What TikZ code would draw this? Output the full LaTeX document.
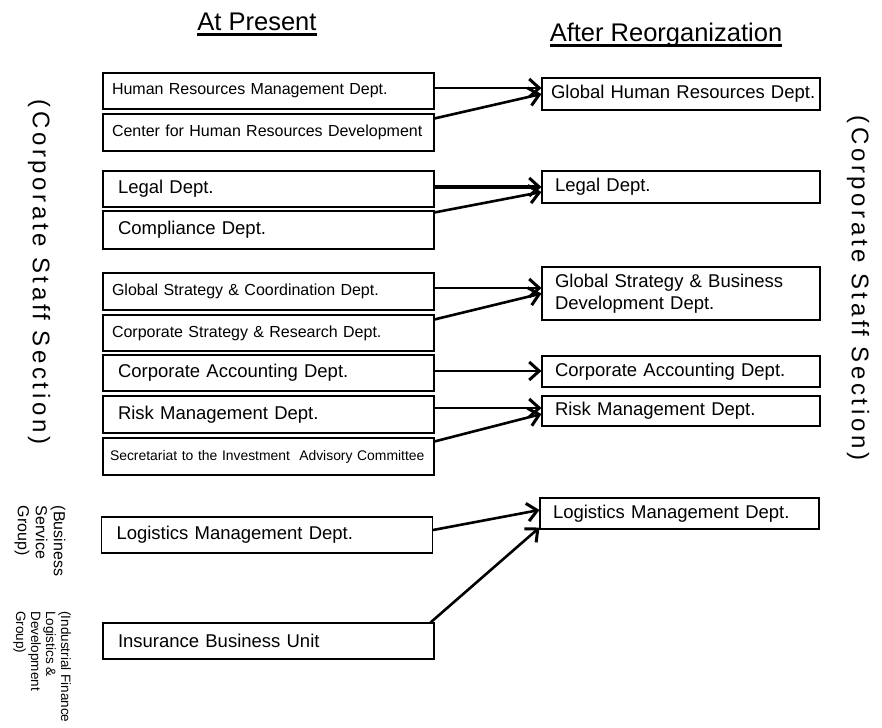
\documentclass[tikz,border=0pt]{standalone}
\usepackage{fontspec}
\setmainfont{Liberation Sans}
\newfontfamily\spacedfont[LetterSpace=15]{Liberation Sans}
\usetikzlibrary{arrows.meta}

\begin{document}
\begin{tikzpicture}[x=1pt, y=-1pt,
    oldbox/.style ={draw, line width=1.1pt, minimum height=37pt, inner ysep=2pt, inner xsep=15pt, text width=301pt, align=left, font=\fontsize{18.5}{22}\selectfont},
    oldsmall/.style ={oldbox, inner xsep=9pt, text width=313pt, font=\fontsize{16}{19}\selectfont},
    newbox/.style ={draw, line width=1.1pt, minimum height=31pt, inner ysep=2pt, inner xsep=13pt, text width=252pt, align=left, font=\fontsize{18.5}{22}\selectfont},
    heading/.style ={inner sep=0pt, anchor=base, font=\fontsize{25.5}{30}\selectfont},
    section/.style ={rotate=-90, font=\spacedfont\fontsize{24}{28}\selectfont},
    group/.style ={rotate=-90, align=left},
    transfer/.style ={line width=2.6pt, -{Straight Barb[length=10pt,width=18pt,line width=3pt]}}]
   \useasboundingbox (0,0) rectangle (882,727);
   \node[heading] (now) at (257,31) {At Present};
   \node[heading] (after) at (666,42) {After Reorganization};
   \draw[line width=3pt] ([yshift=-3.5pt]now.base west) to ([yshift=-3.5pt]now.base east);
   \draw[line width=3pt] ([yshift=-3.5pt]after.base west) to ([yshift=-3.5pt]after.base east);
   \node[section] (leftsec) at (39,272) {(Corporate Staff Section)};
   \node[section] (rightsec) at (858,288) {(Corporate Staff Section)};
   \node[group, font=\fontsize{16}{18}\selectfont] (bsg) at (40,541) {(Business\\Service\\Group)};
   \node[group, font=\fontsize{13.5}{15}\selectfont] (ifg) at (42,667) {(Industrial Finance\\Logistics \&\\Development\\Group)};
   \node[oldsmall, minimum height=36pt] (hrm) at (268.5,91) {Human Resources Management Dept.};
   \node[oldsmall] (chr) at (268.5,132.5) {Center for Human Resources Development};
   \node[oldbox, minimum height=36pt] (legal) at (268.5,189) {Legal Dept.};
   \node[oldbox, minimum height=38pt] (comp) at (268.5,230) {Compliance Dept.};
   \node[oldsmall] (gsc) at (268.5,291.5) {Global Strategy \& Coordination Dept.};
   \node[oldsmall, minimum height=36pt] (csr) at (268.5,333) {Corporate Strategy \& Research Dept.};
   \node[oldbox, minimum height=36pt] (acc) at (268.5,373) {Corporate Accounting Dept.};
   \node[oldbox] (risk) at (268.5,414.5) {Risk Management Dept.};
   \node[oldsmall, inner xsep=7pt, text width=317pt, font=\fontsize{13.9}{16}\selectfont] (sec) at (268.5,456.5) {Secretariat to the Investment \ Advisory Committee};
   \node[oldbox, minimum height=36pt] (log) at (267,535) {Logistics Management Dept.};
   \node[oldbox, minimum height=36pt] (ins) at (268.5,641) {Insurance Business Unit};
   \node[newbox, minimum height=32pt, inner xsep=9pt, text width=260pt] (ghr) at (681,94) {\mbox{Global Human Resources Dept.}};
   \node[newbox, minimum height=32pt] (nlegal) at (681,187) {Legal Dept.};
   \node[newbox, minimum height=53pt] (gsb) at (681,293.5) {Global Strategy \& Business\\Development Dept.};
   \node[newbox] (nacc) at (681,371.5) {Corporate Accounting Dept.};
   \node[newbox, minimum height=30pt] (nrisk) at (681,411) {Risk Management Dept.};
   \node[newbox, text width=253pt] (nlog) at (679.5,513.5) {Logistics Management Dept.};
   \draw[transfer] ([yshift=3pt]hrm.east) to ([yshift=6pt]ghr.west);
   \draw[transfer] ([yshift=-5pt]chr.north east) to (ghr.west);
   \draw[transfer, line width=3.8pt] ([yshift=2pt]legal.east) to (nlegal.west);
   \draw[transfer] ([yshift=-2pt]comp.north east) to ([yshift=-5pt]nlegal.west);
   \draw[transfer] ([yshift=3.5pt]gsc.east) to ([yshift=5.5pt]gsb.west);
   \draw[transfer] ([yshift=-5pt]csr.north east) to (gsb.west);
   \draw[transfer] ([yshift=2pt]acc.east) to ([yshift=0.5pt]nacc.west);
   \draw[transfer] ([yshift=6.5pt]risk.east) to ([yshift=3pt]nrisk.west);
   \draw[transfer] ([yshift=-4pt]sec.north east) to ([yshift=-3pt]nrisk.west);
   \draw[transfer] ([yshift=5pt]log.east) to ([yshift=3.5pt]nlog.west);
   \draw[transfer] ([xshift=-4pt]ins.north east) to ([yshift=2pt]nlog.south west);
 \end{tikzpicture}
\end{document}
